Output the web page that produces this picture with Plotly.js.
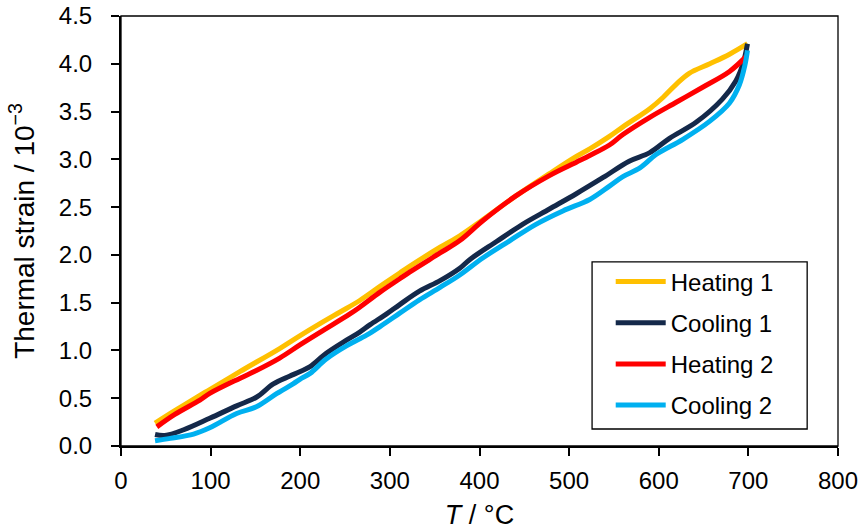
<!DOCTYPE html>
<html>
<head>
<meta charset="utf-8">
<script src="https://cdn.plot.ly/plotly-3.0.1.min.js"></script>
<style>html,body{margin:0;padding:0;background:#fff;}#chart{width:864px;height:531px;}</style>
</head>
<body>
<div id="chart"></div>
<script>
const seriesNames = ["Heating 1", "Cooling 1", "Heating 2", "Cooling 2"];
const seriesColors = ["#FFC000", "#14294A", "#FF0000", "#00B0F0"];

const heating1X = [38, 60, 88, 99, 133, 177, 199, 222, 244, 266, 289, 311, 322, 356, 378, 404, 441, 478, 508, 523, 545, 560, 590, 605, 620, 634, 657, 679, 699];
const heating1Y = [0.24, 0.37, 0.53, 0.59, 0.78, 1.02, 1.15, 1.28, 1.40, 1.52, 1.67, 1.81, 1.88, 2.08, 2.20, 2.37, 2.62, 2.85, 3.03, 3.11, 3.24, 3.34, 3.53, 3.65, 3.79, 3.90, 4.00, 4.10, 4.21];

const cooling1X = [38, 49, 70, 99, 129, 151, 170, 188, 200, 211, 229, 252, 266, 278, 296, 311, 333, 356, 378, 389, 419, 448, 478, 508, 538, 567, 590, 612, 642, 671, 686, 694, 699];
const cooling1Y = [0.12, 0.11, 0.17, 0.29, 0.42, 0.51, 0.65, 0.73, 0.78, 0.83, 0.97, 1.11, 1.19, 1.27, 1.38, 1.48, 1.62, 1.73, 1.86, 1.95, 2.14, 2.32, 2.48, 2.64, 2.81, 2.98, 3.07, 3.22, 3.39, 3.63, 3.82, 4.00, 4.21];

const heating2X = [40, 60, 88, 99, 133, 151, 177, 200, 222, 255, 266, 289, 311, 322, 356, 378, 404, 441, 478, 508, 523, 545, 560, 590, 620, 650, 679, 698];
const heating2Y = [0.20, 0.33, 0.48, 0.55, 0.71, 0.79, 0.92, 1.06, 1.19, 1.38, 1.45, 1.61, 1.75, 1.82, 2.02, 2.15, 2.36, 2.62, 2.83, 2.97, 3.04, 3.15, 3.26, 3.44, 3.60, 3.76, 3.92, 4.08];

const cooling2X = [38, 55, 81, 99, 129, 151, 174, 192, 200, 211, 229, 252, 274, 289, 311, 333, 356, 378, 404, 434, 463, 493, 523, 545, 560, 579, 597, 627, 657, 679, 690, 696, 699];
const cooling2Y = [0.055, 0.08, 0.125, 0.19, 0.34, 0.41, 0.55, 0.65, 0.70, 0.76, 0.91, 1.05, 1.16, 1.25, 1.39, 1.53, 1.66, 1.79, 1.97, 2.15, 2.32, 2.46, 2.58, 2.72, 2.82, 2.91, 3.05, 3.21, 3.40, 3.59, 3.78, 3.98, 4.14];

const xTickVals = [0, 100, 200, 300, 400, 500, 600, 700, 800];
const yTickVals = [0, 0.5, 1, 1.5, 2, 2.5, 3, 3.5, 4, 4.5];
const yTickText = ["0.0", "0.5", "1.0", "1.5", "2.0", "2.5", "3.0", "3.5", "4.0", "4.5"];

const xs = [heating1X, cooling1X, heating2X, cooling2X];
const ys = [heating1Y, cooling1Y, heating2Y, cooling2Y];

const traces = seriesNames.map((n, i) => ({
  x: xs[i], y: ys[i], name: n, type: "scatter", mode: "lines",
  legendgroup: "g" + i,
  line: {color: seriesColors[i], width: 5, shape: "spline", smoothing: 1}
}));

const fam = "Liberation Sans, Arial, sans-serif";

const layout = {
  width: 864, height: 531,
  margin: {l: 121, r: 26, t: 16, b: 85},
  paper_bgcolor: "#fff", plot_bgcolor: "#fff",
  font: {family: fam, size: 23, color: "#000"},
  showlegend: true,
  legend: {
    x: 0.683, y: 0.434, xanchor: "left", yanchor: "top",
    borderwidth: 0, bgcolor: "rgba(0,0,0,0)",
    font: {family: fam, size: 24, color: "#000"},
    traceorder: "grouped", tracegroupgap: 7, itemwidth: 50
  },
  xaxis: {
    range: [0, 800], tickvals: xTickVals, ticks: "outside", ticklen: 8, tickwidth: 2, tickcolor: "#000",
    showline: true, linecolor: "#000", linewidth: 2, showgrid: false, zeroline: false,
    tickfont: {family: fam, size: 24, color: "#000"}, ticklabelstandoff: 4,
    title: {text: "<i>T</i> / °C", font: {family: fam, size: 27, color: "#000"}, standoff: 12}
  },
  yaxis: {
    range: [0, 4.5], tickvals: yTickVals, ticktext: yTickText, ticks: "outside", ticklen: 8, tickwidth: 2, tickcolor: "#000",
    showline: true, linecolor: "#000", linewidth: 2, showgrid: false, zeroline: false,
    tickfont: {family: fam, size: 24, color: "#000"}, ticklabelstandoff: 14,
    title: {text: "Thermal strain / 10<sup>−3</sup>", font: {family: fam, size: 28, color: "#000"}, standoff: 16}
  },
  shapes: [
    {type: "rect", xref: "paper", yref: "paper", x0: 0, x1: 1, y0: 0, y1: 1, line: {color: "#000", width: 1.3}, layer: "above"},
    {type: "rect", xref: "paper", yref: "paper", x0: 0.657, x1: 0.957, y0: 0.0395, y1: 0.428, line: {color: "#000", width: 1.3}, fillcolor: "#fff", layer: "above"}
  ]
};

Plotly.newPlot("chart", traces, layout, {displayModeBar: false, staticPlot: true});
</script>
</body>
</html>
